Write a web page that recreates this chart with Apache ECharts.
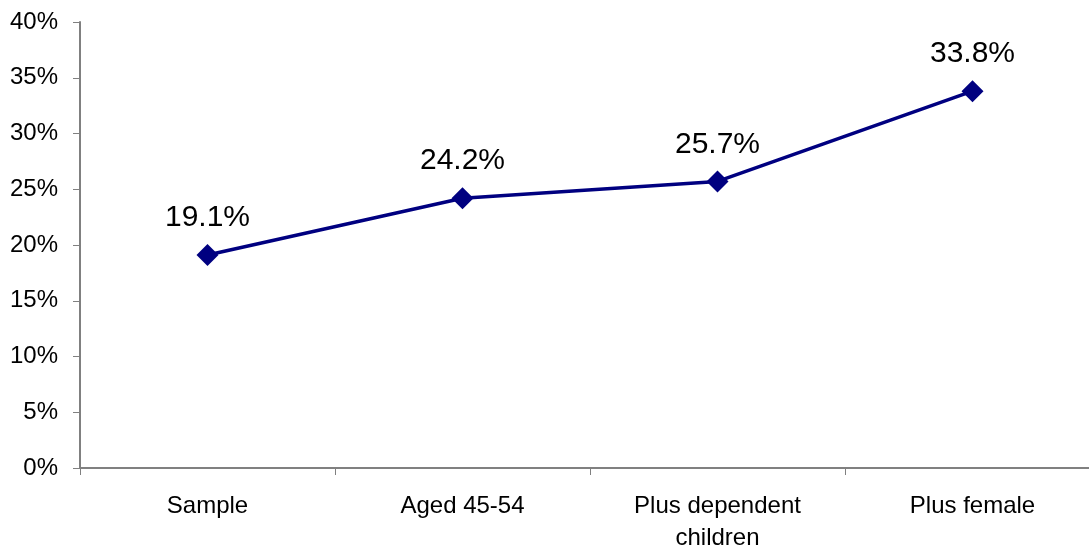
<!DOCTYPE html>
<html>
<head>
<meta charset="utf-8">
<script src="https://cdn.jsdelivr.net/npm/echarts@6/dist/echarts.min.js"></script>
<style>
  html, body { margin: 0; padding: 0; background: #fff; overflow: hidden; }
  #chart { width: 1100px; height: 554px; }
</style>
</head>
<body>
<div id="chart"></div>
<script>
// Share of respondents as each criterion is added
const categories = ['Sample', 'Aged 45-54', 'Plus dependent\nchildren', 'Plus female'];
const values = [19.1, 24.2, 25.7, 33.8];
const yTicks = { min: 0, max: 40, interval: 5 };

const chart = echarts.init(document.getElementById('chart'), null, { renderer: 'canvas' });
const font = 'Liberation Sans, Arial, sans-serif';

chart.setOption({
  animation: false,
  backgroundColor: '#ffffff',
  grid: { left: 80, top: 22, right: 0, height: 451, containLabel: false },
  xAxis: {
    type: 'category',
    data: categories,
    boundaryGap: true,
    axisLine: { lineStyle: { color: '#808080', width: 2 } },
    axisTick: { show: true, length: 7, inside: false, lineStyle: { color: '#808080', width: 1 } },
    axisLabel: { color: '#000', fontFamily: font, fontSize: 24, margin: 22, lineHeight: 32 },
    splitLine: { show: false }
  },
  yAxis: {
    type: 'value',
    min: yTicks.min,
    max: yTicks.max,
    interval: yTicks.interval,
    axisLine: { show: true, lineStyle: { color: '#808080', width: 2 } },
    axisTick: { show: true, length: 7, lineStyle: { color: '#808080', width: 1 } },
    axisLabel: { color: '#000', fontFamily: font, fontSize: 24, margin: 22, formatter: '{value}%' },
    splitLine: { show: false }
  },
  series: [{
    type: 'line',
    data: values,
    lineStyle: { color: '#000080', width: 3.5 },
    itemStyle: { color: '#000080' },
    symbol: 'diamond',
    symbolSize: [22, 22],
    label: {
      show: true,
      position: 'top',
      distance: 11,
      color: '#000',
      fontFamily: font,
      fontSize: 30,
      formatter: p => p.value.toFixed(1) + '%'
    }
  }]
});
</script>
</body>
</html>
